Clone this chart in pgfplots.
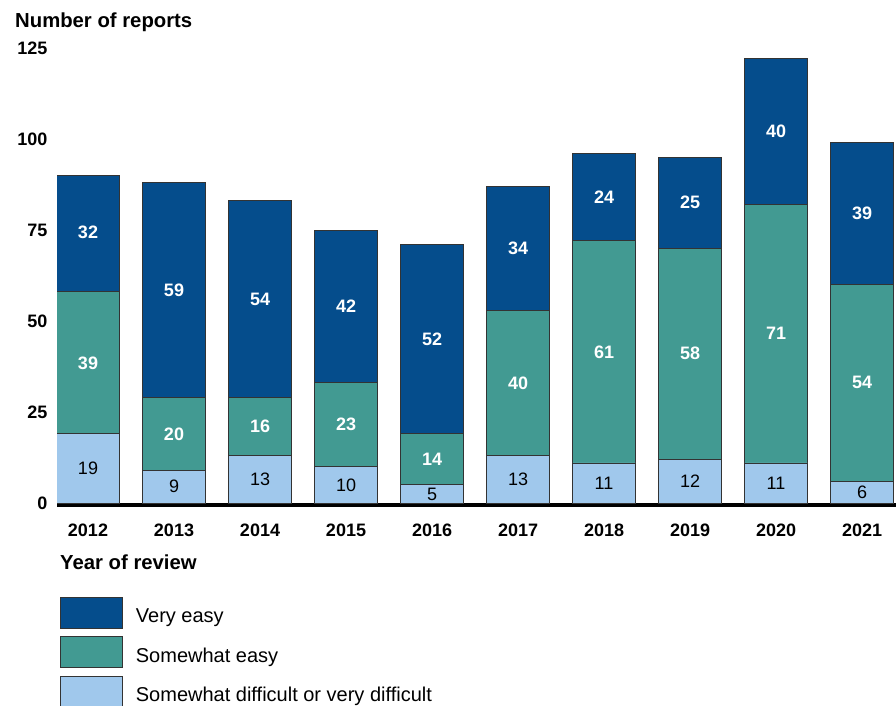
\documentclass[border=0pt]{standalone}
\usepackage{pgfplots}
\pgfplotsset{compat=1.18}
\usepackage{fontspec}
\setmainfont{Liberation Sans}
\definecolor{darkb}{HTML}{054D8C}
\definecolor{tealc}{HTML}{429A92}
\definecolor{lightb}{HTML}{A0C8EC}
\newcommand{\fs}[1]{\fontsize{#1}{#1}\selectfont}
\begin{document}
\begin{tikzpicture}
\pgfplotsset{
  base/.style={
    scale only axis, width=839pt, height=455pt,
    xmin=-0.3605, xmax=9.395, ymin=0, ymax=125,
  }
}
\begin{axis}[base, name=main,
  ybar stacked, bar width=63pt,
  axis x line*=bottom, axis y line*=left,
  y axis line style={draw=none},
  x axis line style={line width=4pt, black, -, yshift=-2pt},
  major tick length=0pt,
  xtick={0,...,9},
  xticklabels={2012,2013,2014,2015,2016,2017,2018,2019,2020,2021},
  ytick={0,25,50,75,100,125},
  /pgf/number format/assume math mode=true,
  ticklabel style={font=\fs{18}\bfseries},
  xticklabel style={yshift=-17pt},
  yticklabel style={xshift=-6pt},
  reverse legend,
  legend style={draw=none, fill=none, at={(0,0)}, anchor=north west,
    xshift=3pt, yshift=-94pt, inner sep=0pt, outer sep=0pt, row sep=7.5pt,
    font=\fs{20}, legend cell align=left,
    nodes={inner sep=0pt, yshift=6pt}, column sep=13pt},
  legend image code/.code={\draw[#1] (0pt,-6pt) rectangle (62pt,25pt);},
]
\addplot[fill=lightb, draw=black!80, line width=0.9pt] coordinates {
 (0,19) (1,9) (2,13) (3,10) (4,5) (5,13) (6,11) (7,12) (8,11) (9,6)};
\addlegendentry{Somewhat difficult or very difficult}
\addplot[fill=tealc, draw=black!80, line width=0.9pt] coordinates {
 (0,39) (1,20) (2,16) (3,23) (4,14) (5,40) (6,61) (7,58) (8,71) (9,54)};
\addlegendentry{Somewhat easy}
\addplot[fill=darkb, draw=black!80, line width=0.9pt] coordinates {
 (0,32) (1,59) (2,54) (3,42) (4,52) (5,34) (6,24) (7,25) (8,40) (9,39)};
\addlegendentry{Very easy}
\end{axis}
\begin{axis}[base, hide axis]
\addplot[only marks, mark=none, nodes near coords, point meta=explicit symbolic,
  nodes near coords style={anchor=center, text=black, font=\fs{18}}] coordinates {
 (0,9.5) [19] (1,4.5) [9] (2,6.5) [13] (3,5) [10] (4,2.5) [5]
 (5,6.5) [13] (6,5.5) [11] (7,6) [12] (8,5.5) [11] (9,3) [6]};
\addplot[only marks, mark=none, nodes near coords, point meta=explicit symbolic,
  nodes near coords style={anchor=center, text=white, font=\fs{18}\bfseries}] coordinates {
 (0,38.5) [39] (1,19) [20] (2,21) [16] (3,21.5) [23] (4,12) [14]
 (5,33) [40] (6,41.5) [61] (7,41) [58] (8,46.5) [71] (9,33) [54]
 (0,74.5) [32] (1,58.5) [59] (2,56) [54] (3,54) [42] (4,45) [52]
 (5,70) [34] (6,84) [24] (7,82.5) [25] (8,102) [40] (9,79.5) [39]};
\end{axis}
\node[anchor=base west, inner sep=0pt, font=\fs{20.3}\bfseries] at ([xshift=-42pt,yshift=475pt]main.south west) {Number of reports};
\node[anchor=base west, inner sep=0pt, font=\fs{20.3}\bfseries] at ([xshift=3pt,yshift=-66pt]main.south west) {Year of review};
\pgfresetboundingbox
\path[use as bounding box] ([xshift=-57pt,yshift=503pt]main.south west) rectangle ([xshift=839pt,yshift=-202pt]main.south west);
\end{tikzpicture}
\end{document}
